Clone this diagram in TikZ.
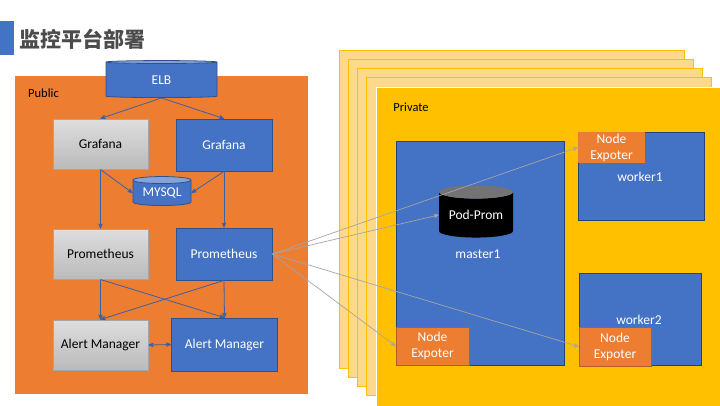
\documentclass[tikz,border=0pt]{standalone}
\usepackage{fontspec}
\setmainfont{Carlito}
\newfontfamily\cjk{Noto Sans CJK SC}
\usetikzlibrary{arrows,shapes.geometric}
\definecolor{color1}{RGB}{68,114,196}
\definecolor{color2}{RGB}{237,125,49}
\definecolor{color3}{RGB}{255,192,0}
\definecolor{color4}{RGB}{255,217,138}
\definecolor{color5}{RGB}{165,165,165}
\definecolor{color6}{RGB}{47,82,143}
\tikzset{
	grayBox/.style={rectangle, draw=color5, line width=1pt, top color=black!13, bottom color=black!27, text=black, inner sep=0pt, font=\fontsize{13.5}{15}\selectfont},
	blueBox/.style={rectangle, draw=color6, line width=0.8pt, fill=color1, text=white, inner sep=0pt, font=\fontsize{13.5}{15}\selectfont},
	hostBox/.style={rectangle, draw=color6!80!black, line width=0.8pt, fill=color1, inner sep=0pt},
	agentBox/.style={rectangle, draw=color2!75!black, line width=0.8pt, fill=color2, text=white, inner sep=0pt, align=center, font=\fontsize{13.5}{16}\selectfont},
	stackBox/.style={rectangle, draw=color3, line width=0.8pt, fill=color4, inner sep=0pt, minimum width=345, minimum height=318},
	drum/.style={cylinder, shape border rotate=90, cylinder uses custom fill, inner sep=0pt, text=white, draw=color6, line width=0.8pt, font=\fontsize{13.5}{15}\selectfont},
	blueDrum/.style={drum, cylinder body fill=color1, cylinder end fill=color1!65},
	link/.style={->, >=stealth', draw=color1!85!black, line width=0.8pt},
	scrape/.style={->, >=stealth', draw=color5, line width=0.7pt}
}
\begin{document}
\begin{tikzpicture}[x=1pt, y=-1pt]
\useasboundingbox (0,0) rectangle (720,405);

% title
\node [rectangle, fill=color1, inner sep=0pt, minimum width=14, minimum height=34] (titleBar) at (7,38) {};
\node [text=black!70, font=\cjk\fontsize{21}{24}\selectfont\bfseries, inner sep=0pt] (titleText) at (82.5,39.5) {监控平台部署};

% public side
\node [rectangle, fill=color2, inner sep=0pt, minimum width=293, minimum height=318] (publicBox) at (161.5,235) {};
\node [font=\fontsize{12.5}{15}\selectfont, inner sep=0pt] (publicText) at (43.5,93.5) {Public};

\node [blueDrum, minimum width=111, minimum height=37, aspect=0.15] (elb) at (161.5,80) {ELB};
\node [grayBox, minimum width=95, minimum height=50] (grafanaA) at (100.5,144) {Grafana};
\node [blueBox, minimum width=96, minimum height=52] (grafanaB) at (224,145) {Grafana};
\node [blueDrum, minimum width=58, minimum height=29, aspect=0.18] (mysql) at (162,193) {MYSQL};
\node [grayBox, minimum width=95, minimum height=50] (promA) at (100.5,254) {Prometheus};
\node [blueBox, minimum width=96, minimum height=52] (promB) at (224,254) {Prometheus};
\node [grayBox, minimum width=95, minimum height=50] (alertA) at (100.5,345) {Alert Manager};
\node [blueBox, minimum width=106, minimum height=53] (alertB) at (224.5,344.5) {Alert Manager};

% private side
\foreach \i in {0,...,3}{
	\node [stackBox] (stack\i) at ({511.5+9.1*\i},{209+9*\i}) {};
}
\node [rectangle, draw=white, line width=1pt, fill=color3, inner sep=0pt, minimum width=346, minimum height=319] (privateBox) at (549,246.5) {};
\node [font=\fontsize{12.5}{15}\selectfont, inner sep=0pt] (privateText) at (411,107) {Private};

\node [hostBox, minimum width=168, minimum height=224] (masterBox) at (480,253) {};
\node [text=white, font=\fontsize{13.5}{15}\selectfont, inner sep=0pt] (masterText) at (478,254) {master1};
\node [drum, draw=none, cylinder body fill=black, cylinder end fill=black!55, minimum width=74, minimum height=52, aspect=0.24] (podProm) at (476,215) {Pod-Prom};
\node [agentBox, minimum width=73, minimum height=38] (agentMaster) at (432.5,346) {Node\\Expoter};

\node [hostBox, minimum width=126, minimum height=88] (workerA) at (641,176) {};
\node [text=white, font=\fontsize{13.5}{15}\selectfont, inner sep=0pt] (workerAText) at (640,177) {worker1};
\node [agentBox, draw=none, minimum width=67, minimum height=31] (agentA) at (611.5,147.5) {Node\\Expoter};

\node [hostBox, minimum width=122, minimum height=92] (workerB) at (640,319) {};
\node [text=white, font=\fontsize{13.5}{15}\selectfont, inner sep=0pt] (workerBText) at (639,320) {worker2};
\node [agentBox, minimum width=72, minimum height=39] (agentB) at (615,346.5) {Node\\Expoter};

% connectors
\draw [link] (elb.south) -- (grafanaA.north);
\draw [link] (elb.south) -- (grafanaB.north);
\draw [link] (grafanaA.south) -- (mysql.west);
\draw [link] (grafanaB.south) -- (mysql.east);
\draw [link] (grafanaA.south) -- (promA.north);
\draw [link] (grafanaB.south) -- (promB.north);
\draw [link] (promA.south) -- (alertA.north);
\draw [link] (promA.south) -- (alertB.north);
\draw [link] (promB.south) -- (alertA.north);
\draw [link] (promB.south) -- (alertB.north);
\draw [link, <->] (alertA.east) -- (alertB.west);

\draw [scrape] (promB.east) -- (agentA.west);
\draw [scrape] (promB.east) -- (podProm.west);
\draw [scrape] (promB.east) -- (agentMaster.west);
\draw [scrape] (promB.east) -- (agentB.west);
\end{tikzpicture}
\end{document}
